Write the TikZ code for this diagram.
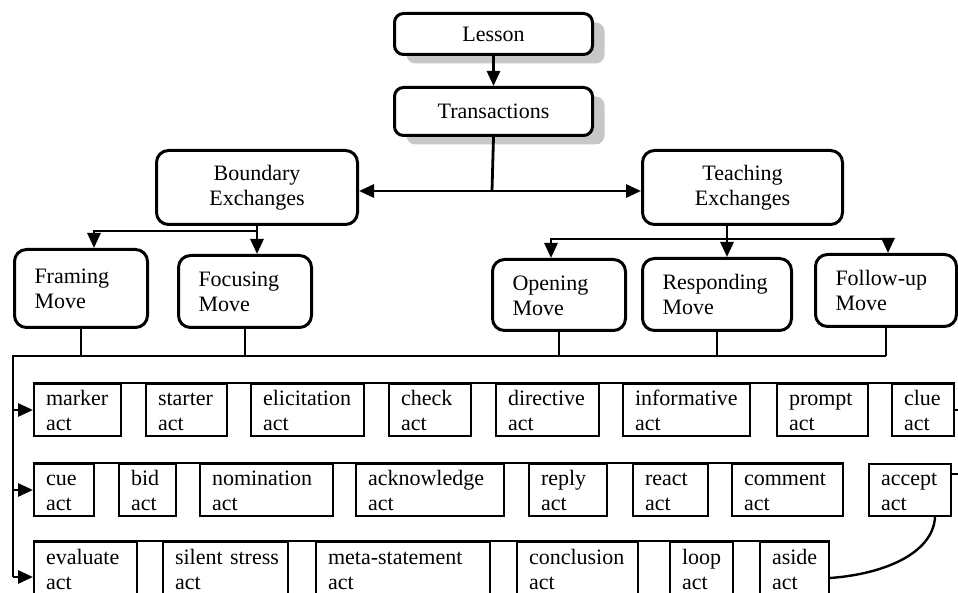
\documentclass[tikz,border=0pt]{standalone}
\usepackage{fontspec}
\setmainfont{Liberation Serif}
\usetikzlibrary{arrows.meta,shadows,calc}
\begin{document}
\begin{tikzpicture}[x=1pt,y=-1pt,
  every node/.style={font=\fontsize{22}{25}\selectfont},
  line/.style={line width=2.8pt},
  thin line/.style={line width=2pt},
  arr/.style={line width=2.8pt,-{Triangle[length=15pt,width=13pt]}},
  topbox/.style={draw,line width=3pt,rounded corners=9pt,fill=white,anchor=north west,
    minimum width=198pt,align=center,inner sep=0pt,
    drop shadow={shadow xshift=12pt,shadow yshift=-9pt,fill=black!22,opacity=1}},
  exbox/.style={draw,line width=3pt,rounded corners=12pt,anchor=north west,align=center,
    inner sep=0pt,minimum height=74pt,execute at begin node=\vphantom{Ab}},
  movebox/.style={draw,line width=3pt,rounded corners=12pt,anchor=north west,align=left,
    inner xsep=20pt,inner ysep=0pt,text width=#1,execute at begin node=\vphantom{Ab}},
  act/.style={draw,line width=2pt,anchor=north west,align=left,inner xsep=12pt,
    inner ysep=0pt,minimum height=52pt,text width=#1,execute at begin node=\vphantom{Ab}},
]
\useasboundingbox (0,0) rectangle (958,593);
\clip (0,0) rectangle (958,593);

% top levels
\node[topbox,minimum height=41pt] (lesson) at (393,12) {Lesson};
\node[topbox,minimum height=48pt] (trans) at (393,86) {Transactions};
\node[exbox,minimum width=201pt] (bound) at (155,149) {Boundary\\Exchanges};
\node[exbox,minimum width=200pt] (teach) at (641,149) {Teaching\\Exchanges};

% moves
\node[movebox=93pt,minimum height=78pt] (frame) at (13,248) {Framing\\Move};
\node[movebox=93pt,minimum height=72pt] (focus) at (177,254) {Focusing\\Move};
\node[movebox=93pt,minimum height=71pt] (open) at (491,258) {Opening\\Move};
\node[movebox=109pt,minimum height=72pt] (resp) at (641,257) {Responding\\Move};
\node[movebox=101pt,minimum height=72pt] (fup) at (814,253) {Follow-up\\Move};

% acts row 1
\node[act=63pt] (marker) at (33,383) {marker\\act};
\node[act=57pt] (starter) at (145,383) {starter\\act};
\node[act=89pt] (elic) at (250,383) {elicitation\\act};
\node[act=58pt] (check) at (388,383) {check\\act};
\node[act=79pt] (direct) at (495,383) {directive\\act};
\node[act=103pt] (inform) at (622,383) {informative\\act};
\node[act=67pt] (prompt) at (776,383) {prompt\\act};
\node[act=38pt] (clue) at (891,383) {clue\\act};

% acts row 2
\node[act=36pt] (cue) at (33,463) {cue\\act};
\node[act=33pt] (bid) at (118,463) {bid\\act};
\node[act=109pt] (nomin) at (199,463) {nomination\\act};
\node[act=124pt] (ackn) at (355,463) {acknowledge\\act};
\node[act=54pt] (reply) at (528,463) {reply\\act};
\node[act=51pt] (react) at (632,463) {react\\act};
\node[act=87pt] (comment) at (731,463) {comment\\act};
\node[act=58pt] (accept) at (868,463) {accept\\act};

% acts row 3
\node[act=79pt,minimum height=54pt] (evaluate) at (33,541) {evaluate\\act};
\node[act=101pt,minimum height=54pt] (silent) at (162,541) {silent~stress\\act};
\node[act=150pt,minimum height=54pt] (meta) at (315,541) {meta-statement\\act};
\node[act=97pt,minimum height=54pt] (concl) at (516,541) {conclusion\\act};
\node[act=39pt,minimum height=54pt] (loop) at (669,541) {loop\\act};
\node[act=45pt,minimum height=54pt] (aside) at (759,541) {aside\\act};

% row top lines
\draw[thin line] (marker.north west) -- (clue.north east);
\draw[thin line] (cue.north west) -- (comment.north east);
\draw[thin line] (evaluate.north west) -- (aside.north east);

% connectors top
\coordinate (j1) at (492,191);
\draw[arr] (lesson) -- (trans);
\draw[line] (trans.south) -- (j1);
\draw[arr] (j1) -- (j1 -| bound.east);
\draw[arr] (j1) -- (j1 -| teach.west);

% boundary branches
\coordinate (b1) at (bound.south |- 0,231);
\draw[arr] (bound.south) -- (bound.south |- focus.north);
\draw[arr] (b1) -| (frame.north -| 94,0);

% teaching branches
\coordinate (t1) at (727,239);
\draw[arr] (t1 |- teach.south) -- (t1 |- resp.north);
\draw[arr] (t1) -| (open.north -| 551,0);
\draw[arr] (t1) -| (fup.north -| 888,0);

% bus
\coordinate (busL) at (13,356);
\coordinate (busB) at (13,577);
\draw[line] (fup.south |- busL) -- (busL) -- (busB);
\draw[line] (frame.south) -- (frame.south |- busL);
\draw[line] (focus.south) -- (focus.south |- busL);
\draw[line] (open.south) -- (open.south |- busL);
\draw[line] (resp.south) -- (resp.south |- busL);
\draw[line] (fup.south) -- (fup.south |- busL);
\draw[arr] (marker.west -| busL) -- (marker.west);
\draw[arr] (cue.west -| busL) -- (cue.west);
\draw[arr] (busB) -- (busB -| evaluate.west);

% stubs at the right
\draw[thin line] (clue.east) -- (clue.east -| 958,0);
\draw[thin line] (958,474 -| accept.east) -- (958,474);

% curve
\draw[line width=2.4pt] ($(accept.south east)+(-17,0)$) .. controls +(-2,36) and +(55,-4) .. ($(aside.east)+(0,9)$);
\end{tikzpicture}
\end{document}
